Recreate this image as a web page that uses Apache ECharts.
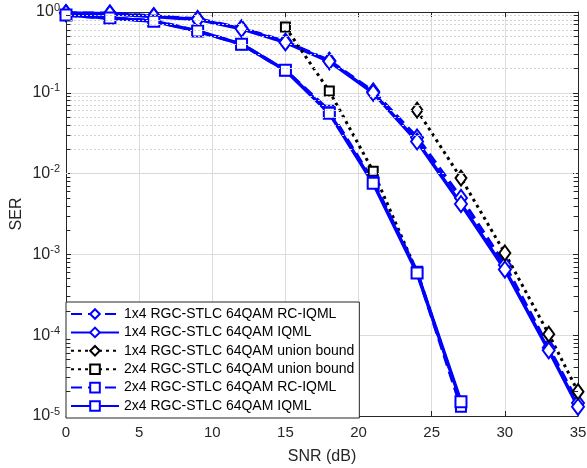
<!DOCTYPE html>
<html>
<head>
<meta charset="utf-8">
<script src="https://cdn.jsdelivr.net/npm/echarts@6/dist/echarts.min.js"></script>
<style>
  html, body { margin: 0; padding: 0; background: #fff; }
  #chart { width: 587px; height: 468px; }
</style>
</head>
<body>
<div id="chart"></div>
<script>
// SNR points (dB)
var snr1x4 = [0, 3, 6, 9, 12, 15, 18, 21, 24, 27, 30, 33, 35];
var snr2x4 = [0, 3, 6, 9, 12, 15, 18, 21, 24, 27];
var snrUb1 = [24, 27, 30, 33, 35];
var snrUb2 = [15, 18, 21, 24, 27];

// SER values
var ser1x4Rc   = [0.97, 0.96, 0.89, 0.82, 0.63, 0.43, 0.25, 0.104, 0.028, 0.0050, 7.4e-4, 7.0e-5, 1.45e-5];
var ser1x4Iqml = [0.97, 0.95, 0.88, 0.81, 0.62, 0.42, 0.245, 0.100, 0.025, 0.0042, 6.5e-4, 6.5e-5, 1.3e-5];
var ser1x4Ub   = [0.061, 0.0088, 1.04e-3, 1.03e-4, 2.0e-5];
var ser2x4Ub   = [0.65, 0.105, 0.0107, 6.0e-4, 1.45e-5];
var ser2x4Rc   = [0.92, 0.84, 0.78, 0.58, 0.40, 0.19, 0.060, 0.0080, 6.1e-4, 1.3e-5];
var ser2x4Iqml = [0.92, 0.84, 0.77, 0.58, 0.40, 0.19, 0.056, 0.0076, 5.9e-4, 1.5e-5];

var names = [
  '1x4 RGC-STLC 64QAM RC-IQML',
  '1x4 RGC-STLC 64QAM IQML',
  '1x4 RGC-STLC 64QAM union bound',
  '2x4 RGC-STLC 64QAM union bound',
  '2x4 RGC-STLC 64QAM RC-IQML',
  '2x4 RGC-STLC 64QAM IQML'
];

var decades = [-5, -4, -3, -2, -1];
var minorMult = [2, 3, 4, 5, 6, 7, 8, 9];

var axisCol = '#262626';
var blue = '#0000ff';
var font = 'Liberation Sans, Arial, sans-serif';

function pairs(xs, ys) {
  return xs.map(function (x, i) { return [x, ys[i]]; });
}

// minor grid lines + minor ticks of the log axis
var minorVals = [];
decades.forEach(function (e) {
  minorMult.forEach(function (m) { minorVals.push(m * Math.pow(10, e)); });
});
var minorGrid = minorVals.map(function (v) { return { yAxis: v }; });
var minorTicks = [];
minorVals.forEach(function (v) {
  minorTicks.push([{ coord: [0, v] }, { coord: [0.3, v] }]);
  minorTicks.push([{ coord: [34.7, v] }, { coord: [35, v] }]);
});

function mk(name, data, color, type, symbol, size, width) {
  return {
    name: name,
    type: 'line',
    data: data,
    symbol: symbol,
    symbolSize: size,
    showAllSymbol: true,
    lineStyle: { color: color, width: width, type: type },
    itemStyle: { color: color, borderColor: color, borderWidth: 3 },
    emphasis: { disabled: true },
    z: 3
  };
}

var series = [
  mk(names[0], pairs(snr1x4, ser1x4Rc), blue, [11, 6], 'emptyDiamond', [12, 16], 3.5),
  mk(names[1], pairs(snr1x4, ser1x4Iqml), blue, 'solid', 'emptyDiamond', [12, 16], 3.5),
  mk(names[2], pairs(snrUb1, ser1x4Ub), '#000', [3, 4], 'emptyDiamond', [11, 15], 3),
  mk(names[3], pairs(snrUb2, ser2x4Ub), '#000', [3, 4], 'emptyRect', [9, 9], 3),
  mk(names[4], pairs(snr2x4, ser2x4Rc), blue, [11, 6], 'emptyRect', [10, 10], 3.5),
  mk(names[5], pairs(snr2x4, ser2x4Iqml), blue, 'solid', 'emptyRect', [11, 11], 3.5)
];

// grid decorations hang off empty helper series
series.push({
  type: 'line',
  data: [],
  silent: true,
  z: 1,
  markLine: {
    silent: true,
    symbol: 'none',
    animation: false,
    label: { show: false },
    lineStyle: { color: '#d4d4d4', type: [2, 2], width: 1 },
    data: minorGrid
  }
});
series.push({
  type: 'line',
  data: [],
  silent: true,
  z: 2,
  markLine: {
    silent: true,
    symbol: 'none',
    animation: false,
    label: { show: false },
    lineStyle: { color: axisCol, type: 'solid', width: 1 },
    data: minorTicks
  }
});

var chart = echarts.init(document.getElementById('chart'));
chart.setOption({
  animation: false,
  backgroundColor: '#fff',
  textStyle: { fontFamily: font },
  grid: { left: 66, right: 9, top: 12, bottom: 52, containLabel: false, outerBoundsMode: 'none' },
  legend: {
    data: names,
    orient: 'vertical',
    left: 66,
    top: 302,
    itemWidth: 48,
    itemHeight: 12,
    itemGap: 4.4,
    padding: [5, 5, 5, 4],
    backgroundColor: '#fff',
    borderColor: axisCol,
    borderWidth: 1,
    borderRadius: 0,
    textStyle: { fontSize: 14, color: '#000', fontFamily: font }
  },
  xAxis: [{
    type: 'value',
    min: 0, max: 35, interval: 5,
    name: 'SNR (dB)',
    nameLocation: 'middle',
    nameGap: 33,
    nameMoveOverlap: false,
    nameTextStyle: { fontSize: 16, color: axisCol },
    axisLine: { onZero: false, lineStyle: { color: axisCol, width: 1 } },
    axisTick: { inside: true, length: 5, lineStyle: { color: axisCol } },
    axisLabel: { fontSize: 15, color: axisCol, margin: 9 },
    splitLine: { show: true, lineStyle: { color: '#dcdcdc', width: 1 } }
  }, {
    type: 'value',
    position: 'top',
    min: 0, max: 35, interval: 5,
    axisLine: { onZero: false, lineStyle: { color: axisCol, width: 1 } },
    axisTick: { inside: true, length: 5, lineStyle: { color: axisCol } },
    axisLabel: { show: false },
    splitLine: { show: false }
  }],
  yAxis: [{
    type: 'log',
    logBase: 10,
    min: 1e-5, max: 1,
    name: 'SER',
    nameLocation: 'middle',
    nameGap: 41,
    nameMoveOverlap: false,
    nameTextStyle: { fontSize: 16, color: axisCol },
    axisLine: { show: true, onZero: false, lineStyle: { color: axisCol, width: 1 } },
    axisTick: { show: true, inside: true, length: 5, lineStyle: { color: axisCol } },
    axisLabel: {
      margin: 6,
      formatter: function (v) {
        return '{b|10}{s|' + Math.round(Math.log10(v)) + '}';
      },
      rich: {
        b: { fontSize: 16, color: axisCol, fontFamily: font },
        s: { fontSize: 11, color: axisCol, verticalAlign: 'top', padding: [0, 0, 9, 0], fontFamily: font }
      }
    },
    splitLine: { show: true, lineStyle: { color: '#dcdcdc', width: 1 } }
  }, {
    type: 'log',
    logBase: 10,
    position: 'right',
    min: 1e-5, max: 1,
    axisLine: { show: true, onZero: false, lineStyle: { color: axisCol, width: 1 } },
    axisTick: { show: true, inside: true, length: 5, lineStyle: { color: axisCol } },
    axisLabel: { show: false },
    splitLine: { show: false }
  }],
  series: series
});
</script>
</body>
</html>
